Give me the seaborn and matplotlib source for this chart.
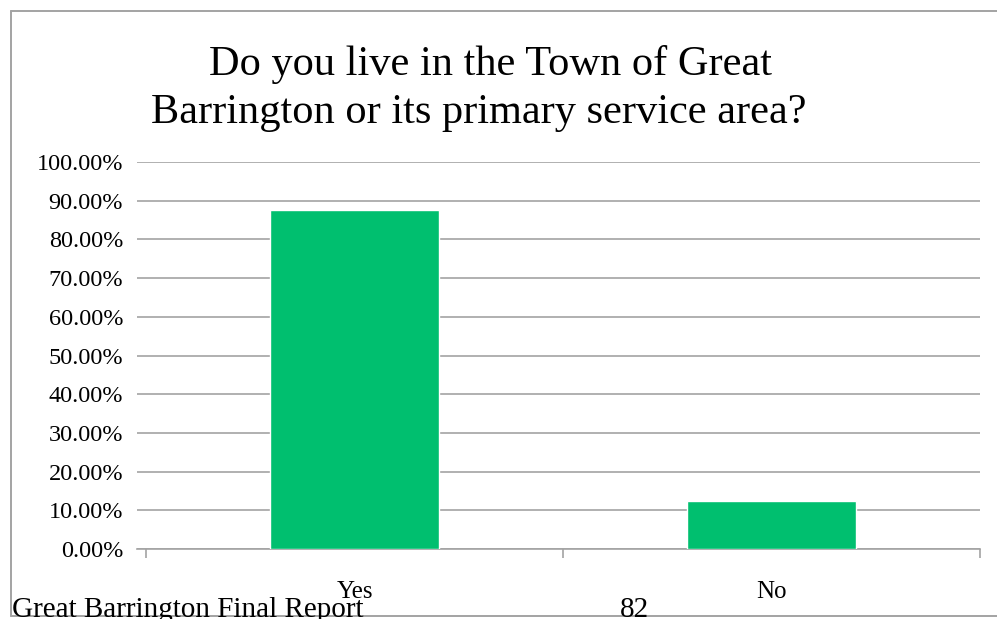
import matplotlib
matplotlib.use("Agg")
import matplotlib.pyplot as plt
from matplotlib.lines import Line2D
from matplotlib.ticker import FixedLocator
import pandas as pd
import seaborn as sns

# Survey answers and their share of respondents (%)
answers = ["Yes", "No"]
shares = [87.6, 12.4]
y_ticks = [0, 10, 20, 30, 40, 50, 60, 70, 80, 90, 100]
y_tick_labels = [f"{v:.2f}%" for v in y_ticks]
title_lines = ["Do you live in the Town of Great",
               "Barrington or its primary service area?"]
footer_left = "Great Barrington Final Report"
footer_page = "82"

sns.set_theme(style="white")
plt.rcParams["font.family"] = ["Liberation Serif", "DejaVu Serif"]

W, H = 997, 619
fig = plt.figure(figsize=(W / 100, H / 100), dpi=100)
fig.patch.set_facecolor("white")

# plot area in pixel coordinates
left_px, right_px, top_px, bottom_px = 137, 980, 162, 549
ax = fig.add_axes([left_px / W, 1 - bottom_px / H,
                   (right_px - left_px) / W, (bottom_px - top_px) / H])

df = pd.DataFrame({"answer": answers, "share": shares})
sns.barplot(data=df, x="answer", y="share", color="#00BF6F", saturation=1,
            width=0.403, ax=ax, zorder=3)

# category axis: group boundaries at -0.5, 0.5, 1.5
unit_px = (980 - 146) / 2.0
ax.set_xlim(-0.5 - (146 - left_px) / unit_px, 1.5)
ax.set_ylim(0, 100)

ax.set_yticks(y_ticks)
ax.set_yticklabels(y_tick_labels, fontsize=17.5, color="black")
ax.tick_params(axis="y", length=0, pad=10)
ax.yaxis.grid(True, color="#A3A3A3", linewidth=1.2, zorder=0)
ax.set_axisbelow(True)

ax.set_xticks([0, 1])
ax.set_xticklabels(answers, fontsize=18, color="black")
ax.tick_params(axis="x", which="major", length=0, pad=23)
ax.xaxis.set_minor_locator(FixedLocator([-0.5, 0.5, 1.5]))
ax.tick_params(axis="x", which="minor", length=6.5, width=1.2,
               color="#A3A3A3", bottom=True, direction="out")

ax.set_xlabel("")
ax.set_ylabel("")
for side in ["top", "right", "left"]:
    ax.spines[side].set_visible(False)
ax.spines["bottom"].set_color("#A3A3A3")
ax.spines["bottom"].set_linewidth(1.2)

# two-line chart title
for line, cx, base in zip(title_lines, [490.5, 479], [75, 123]):
    fig.text(cx / W, 1 - base / H, line, ha="center", va="baseline",
             fontsize=30.5, color="black")

# outer frame of the chart box
def px_line(x0, y0, x1, y1):
    fig.add_artist(Line2D([x0 / W, x1 / W], [1 - y0 / H, 1 - y1 / H],
                          transform=fig.transFigure, color="#A3A3A3",
                          linewidth=1.4, zorder=0))

px_line(11, 10.5, W, 10.5)
px_line(11, 10.5, 11, 616)
px_line(11, 616, W, 616)

fig.text(12 / W, 1 - 617 / H, footer_left, ha="left", va="baseline",
         fontsize=21, color="black")
fig.text(634 / W, 1 - 617 / H, footer_page, ha="center", va="baseline",
         fontsize=21, color="black")

fig.savefig("out.png", dpi=100, facecolor="white")
